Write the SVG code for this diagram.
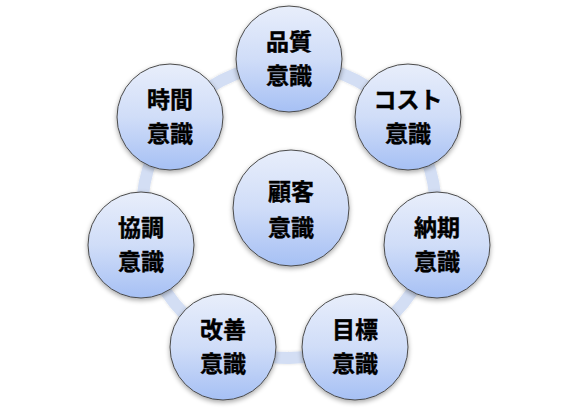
<svg xmlns="http://www.w3.org/2000/svg" width="579" height="417" viewBox="0 0 579 417">
<defs>
<linearGradient id="fillG" x1="0" y1="0" x2="0" y2="1">
<stop offset="0" stop-color="#e8eefb"/>
<stop offset="0.5" stop-color="#d0ddf8"/>
<stop offset="1" stop-color="#a6c0f4"/>
</linearGradient>
<filter id="sh" x="-20%" y="-20%" width="140%" height="140%">
<feGaussianBlur in="SourceAlpha" stdDeviation="2.5"/>
<feOffset dx="0" dy="1.5" result="b"/>
<feComponentTransfer><feFuncA type="linear" slope="0.35"/></feComponentTransfer>
<feMerge><feMergeNode/><feMergeNode in="SourceGraphic"/></feMerge>
</filter>
<filter id="rsh" x="-10%" y="-10%" width="120%" height="120%">
<feGaussianBlur in="SourceAlpha" stdDeviation="1.5"/>
<feComponentTransfer><feFuncA type="linear" slope="0.15"/></feComponentTransfer>
<feMerge><feMergeNode/><feMergeNode in="SourceGraphic"/></feMerge>
</filter>
</defs>
<style>
.node circle{fill:url(#fillG);stroke:#4a4a4a;stroke-width:1;filter:url(#sh)}
.node text{font-family:"Noto Sans CJK JP","Noto Sans CJK SC",sans-serif;font-weight:bold;font-size:23px;fill:#000;text-anchor:middle;stroke:#000;stroke-width:0.4}
</style>
<rect width="579" height="417" fill="#fff"/>
<g id="connectors">
<circle cx="289" cy="211" r="147" fill="none" stroke="#d3def4" stroke-width="12" filter="url(#rsh)"/>
</g>
<g id="n-kokyaku" class="node"><circle cx="291" cy="208" r="58"/><text x="291" y="200">顧客</text><text x="291" y="236">意識</text></g>
<g id="n-hinshitsu" class="node"><circle cx="289" cy="59" r="53"/><text x="289" y="50">品質</text><text x="289" y="84">意識</text></g>
<g id="n-cost" class="node"><circle cx="408" cy="117" r="53"/><text x="408" y="108">コスト</text><text x="408" y="142">意識</text></g>
<g id="n-nouki" class="node"><circle cx="437" cy="245" r="53"/><text x="437" y="236">納期</text><text x="437" y="270">意識</text></g>
<g id="n-mokuhyo" class="node"><circle cx="355" cy="347" r="53"/><text x="355" y="338">目標</text><text x="355" y="372">意識</text></g>
<g id="n-kaizen" class="node"><circle cx="223" cy="347" r="53"/><text x="223" y="338">改善</text><text x="223" y="372">意識</text></g>
<g id="n-kyouchou" class="node"><circle cx="141" cy="245" r="53"/><text x="141" y="236">協調</text><text x="141" y="270">意識</text></g>
<g id="n-jikan" class="node"><circle cx="170" cy="117" r="53"/><text x="170" y="108">時間</text><text x="170" y="142">意識</text></g>
</svg>
